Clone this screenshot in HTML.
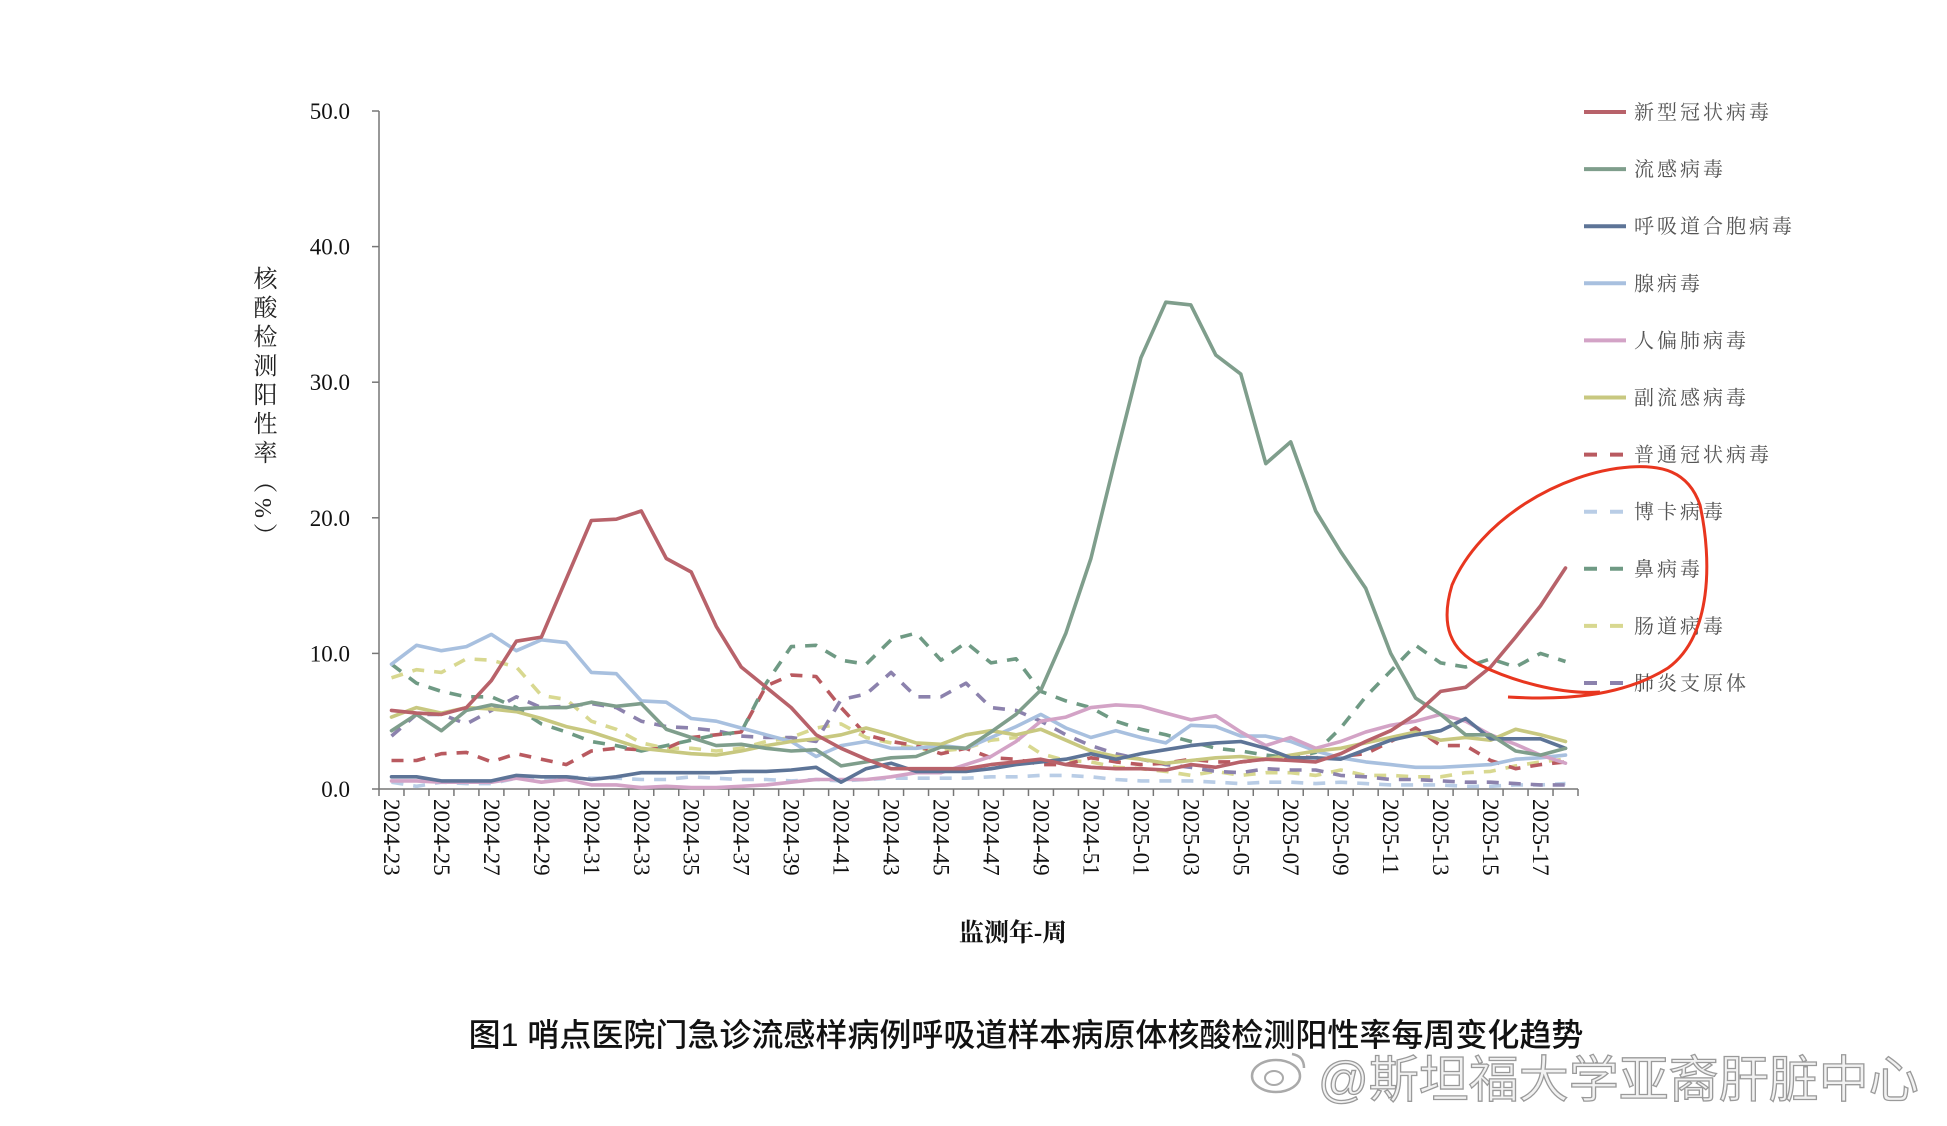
<!DOCTYPE html>
<html><head><meta charset="utf-8">
<style>
html,body{margin:0;padding:0;background:#fff;}
body{width:1947px;height:1126px;position:relative;overflow:hidden;font-family:"Liberation Serif","Noto Serif CJK SC",serif;}
#chart{position:absolute;left:0;top:0;}
.ytitle{position:absolute;left:245px;top:266px;writing-mode:vertical-rl;font-family:"Liberation Serif","Noto Serif CJK SC",serif;font-size:24px;letter-spacing:5px;color:#222;}
.title{position:absolute;left:0;width:2052px;top:1010px;text-align:center;font-family:"Liberation Sans","Noto Sans CJK SC",sans-serif;font-size:32px;font-weight:500;color:#111;}
.wm{position:absolute;left:1318px;top:1040px;font-family:"Liberation Sans","Noto Sans CJK SC",sans-serif;font-size:50px;color:#f2f2f2;-webkit-text-stroke:1.3px #9a9a9a;white-space:nowrap;}
.wmlogo{position:absolute;left:1248px;top:1048px;width:60px;height:46px;}
</style></head>
<body>
<svg id="chart" width="1947" height="1126"></svg>
<div class="ytitle">核酸检测阳性率（%）</div>
<div class="title">图1 哨点医院门急诊流感样病例呼吸道样本病原体核酸检测阳性率每周变化趋势</div>
<svg class="wmlogo" viewBox="0 0 60 46"><ellipse cx="28" cy="28" rx="24" ry="16" fill="none" stroke="#aaa" stroke-width="2.5"/><ellipse cx="26" cy="30" rx="9" ry="7" fill="none" stroke="#aaa" stroke-width="2"/><path d="M44 6 Q56 8 56 20" fill="none" stroke="#aaa" stroke-width="2.5"/></svg>
<div class="wm">@斯坦福大学亚裔肝脏中心</div>
<script>
const categories = ["2024-23","2024-24","2024-25","2024-26","2024-27","2024-28","2024-29","2024-30","2024-31","2024-32","2024-33","2024-34","2024-35","2024-36","2024-37","2024-38","2024-39","2024-40","2024-41","2024-42","2024-43","2024-44","2024-45","2024-46","2024-47","2024-48","2024-49","2024-50","2024-51","2024-52","2025-01","2025-02","2025-03","2025-04","2025-05","2025-06","2025-07","2025-08","2025-09","2025-10","2025-11","2025-12","2025-13","2025-14","2025-15","2025-16","2025-17","2025-18"];
const yTicks = [0,10,20,30,40,50];
const yTickLabels = ["0.0","10.0","20.0","30.0","40.0","50.0"];
const seriesNames = ["新型冠状病毒","流感病毒","呼吸道合胞病毒","腺病毒","人偏肺病毒","副流感病毒","普通冠状病毒","博卡病毒","鼻病毒","肠道病毒","肺炎支原体"];
const covid = [5.8,5.6,5.5,6.0,8.0,10.9,11.2,15.5,19.8,19.9,20.5,17.0,16.0,12.0,9.0,7.5,6.0,4.0,3.0,2.2,1.5,1.5,1.5,1.5,1.8,2.0,2.2,1.8,1.6,1.5,1.5,1.4,1.8,1.6,2.0,2.2,2.1,2.0,2.6,3.5,4.3,5.5,7.2,7.5,9.0,11.2,13.5,16.3];
const flu = [4.3,5.5,4.3,5.8,6.2,5.9,6.0,6.0,6.4,6.1,6.3,4.4,3.8,3.2,3.3,3.0,2.8,2.9,1.7,2.0,2.3,2.4,3.1,3.0,4.2,5.5,7.3,11.5,17.0,24.5,31.8,35.9,35.7,32.0,30.6,24.0,25.6,20.5,17.5,14.8,10.0,6.7,5.5,4.0,4.0,2.8,2.5,3.0];
const rsv = [0.9,0.9,0.6,0.6,0.6,1.0,0.9,0.9,0.7,0.9,1.2,1.2,1.2,1.2,1.3,1.3,1.4,1.6,0.5,1.5,1.9,1.3,1.3,1.3,1.5,1.8,2.0,2.2,2.6,2.2,2.6,2.9,3.2,3.4,3.5,3.0,2.3,2.3,2.2,2.9,3.6,4.0,4.3,5.2,3.7,3.7,3.7,3.0];
const adeno = [9.2,10.6,10.2,10.5,11.4,10.2,11.0,10.8,8.6,8.5,6.5,6.4,5.2,5.0,4.5,4.0,3.5,2.4,3.2,3.5,3.0,3.0,3.2,3.0,3.8,4.6,5.5,4.5,3.8,4.3,3.8,3.4,4.7,4.6,3.9,3.9,3.5,2.8,2.3,2.0,1.8,1.6,1.6,1.7,1.8,2.2,2.3,2.5];
const hmpv = [0.6,0.6,0.5,0.5,0.5,0.8,0.5,0.7,0.3,0.3,0.1,0.2,0.1,0.1,0.2,0.3,0.5,0.7,0.7,0.7,0.9,1.2,1.2,1.8,2.4,3.5,5.0,5.3,6.0,6.2,6.1,5.6,5.1,5.4,4.2,3.2,3.8,3.0,3.5,4.2,4.7,5.0,5.5,5.0,4.0,3.3,2.5,1.9];
const para = [5.3,6.0,5.6,6.0,5.9,5.7,5.2,4.6,4.2,3.6,3.0,2.8,2.6,2.5,2.8,3.2,3.5,3.7,4.0,4.5,4.0,3.4,3.3,4.0,4.3,4.0,4.4,3.6,2.8,2.4,2.2,1.9,2.1,2.3,2.4,2.2,2.5,2.8,3.0,3.4,3.8,4.2,3.6,3.8,3.6,4.4,4.0,3.5];
const hcov = [2.1,2.1,2.6,2.7,2.0,2.6,2.2,1.8,2.8,3.0,2.9,3.0,3.8,4.0,4.2,7.6,8.4,8.3,6.0,4.0,3.5,3.2,2.6,3.0,2.3,2.2,1.8,1.8,2.3,2.0,1.8,1.9,2.2,2.0,2.0,2.2,2.4,2.3,2.4,2.6,3.5,4.5,3.2,3.2,2.1,1.5,1.8,2.0];
const boca = [0.5,0.2,0.5,0.4,0.4,0.8,0.8,0.9,0.8,0.8,0.7,0.7,0.9,0.8,0.7,0.7,0.6,0.7,0.6,0.7,0.8,0.8,0.8,0.8,0.9,0.9,1.0,1.0,0.9,0.7,0.6,0.6,0.6,0.5,0.4,0.5,0.5,0.4,0.5,0.4,0.3,0.3,0.3,0.2,0.2,0.3,0.3,0.4];
const rhino = [9.2,7.8,7.2,6.8,6.8,6.0,4.8,4.2,3.5,3.2,2.8,3.2,3.6,4.0,4.2,7.8,10.5,10.6,9.5,9.2,11.0,11.5,9.5,10.8,9.3,9.6,7.2,6.5,6.0,5.0,4.4,4.0,3.5,3.0,2.8,2.5,2.3,2.7,4.5,6.8,8.7,10.6,9.3,9.0,9.6,9.0,10.0,9.4];
const entero = [8.2,8.8,8.6,9.6,9.5,9.0,6.9,6.6,5.0,4.4,3.4,3.0,3.0,2.8,3.0,3.5,3.8,4.5,4.8,3.8,3.4,3.0,2.8,3.0,3.6,3.8,2.6,2.1,2.0,1.6,1.5,1.3,1.0,1.3,1.0,1.2,1.2,1.0,1.4,1.0,1.0,0.9,0.9,1.2,1.3,1.7,2.0,2.2];
const myco = [3.9,5.5,5.5,4.8,5.8,6.8,6.0,6.1,6.3,6.0,5.0,4.6,4.5,4.3,3.9,3.8,3.8,3.5,6.6,7.0,8.6,6.8,6.8,7.8,6.0,5.8,5.0,4.0,3.2,2.6,2.2,1.8,1.6,1.3,1.2,1.5,1.4,1.4,1.0,0.9,0.7,0.7,0.6,0.5,0.5,0.4,0.3,0.3];

const seriesData = [covid,flu,rsv,adeno,hmpv,para,hcov,boca,rhino,entero,myco];
const colors = ["#b8626a","#7f9e8c","#5d7497","#a8c0df","#d3a3c6","#c8c880","#b95a60","#b9cde6","#6f9a84","#d8d890","#8c82ad"];
const dashed = [false,false,false,false,false,false,true,true,true,true,true];
const keys = ["covid","flu","rsv","adeno","hmpv","para","hcov","boca","rhino","entero","myco"];

const X0=379, X1=1578, Y0=789, Y50=111;
const slot=(X1-X0)/categories.length;
function xPos(i){return X0+slot*(i+0.5);}
function yPos(v){return Y0-(v/50)*(Y0-Y50);}
const NS="http://www.w3.org/2000/svg";
const svg=document.getElementById('chart');
function mk(tag,attrs,parent){const e=document.createElementNS(NS,tag);for(const k in attrs)e.setAttribute(k,attrs[k]);(parent||svg).appendChild(e);return e;}

const axY=mk('line',{x1:X0,y1:Y50,x2:X0,y2:Y0,stroke:'#777','stroke-width':1.5});


const axX=mk('line',{x1:X0,y1:Y0,x2:X1,y2:Y0,stroke:'#777','stroke-width':1.5});


yTicks.forEach((t,k)=>{
  const y=yPos(t);
  const tk=mk('line',{x1:X0-7,y1:y,x2:X0,y2:y,stroke:'#777','stroke-width':1.5});
  
  
  const tx=mk('text',{x:350,y:y+8,'text-anchor':'end','font-size':23,fill:'#111','font-family':'Liberation Serif, serif'});
  tx.textContent=yTickLabels[k];
  
  
});
for(let i=0;i<=categories.length;i++){
  const x=X0+slot*i;
  const tk=mk('line',{x1:x,y1:Y0,x2:x,y2:Y0+7,stroke:'#777','stroke-width':1.5});
  
  
}
categories.forEach((c,i)=>{
  if(i%2!==0)return;
  const x=xPos(i), y=Y0+10;
  const tx=mk('text',{x:x,y:y,transform:`rotate(90 ${x} ${y})`,'text-anchor':'start','dominant-baseline':'central','font-size':23,fill:'#111','font-family':'Liberation Serif, serif'});
  tx.textContent=c;
  
  
});
const xt=mk('text',{x:1013,y:941,'text-anchor':'middle','font-size':25,fill:'#111','font-weight':'bold','font-family':'Liberation Serif, Noto Serif CJK SC, serif'});
xt.textContent='监测年-周';



const order=[9,7,10,6,8,3,4,5,2,1,0];
order.forEach(s=>{
  const d=seriesData[s].map((v,i)=>(i?'L':'M')+xPos(i).toFixed(1)+' '+yPos(v).toFixed(1)).join(' ');
  const attrs={d:d,fill:'none',stroke:colors[s],'stroke-width':3.6,'stroke-linejoin':'round','stroke-linecap':'round'};
  if(dashed[s]){attrs['stroke-dasharray']='12 10';attrs['stroke-linecap']='butt';}
  const p=mk('path',attrs);
  
  
});

seriesNames.forEach((n,s)=>{
  const y=112+s*57.1;
  const g=mk('g',{});
  
  
  const la={x1:1584,y1:y,x2:1626,y2:y,stroke:colors[s],'stroke-width':4};
  if(dashed[s])la['stroke-dasharray']='13 13';
  mk('line',la,g);
  const t=mk('text',{x:1634,y:y+7,'font-size':20,fill:'#555','letter-spacing':'3','font-family':'Liberation Serif, Noto Serif CJK SC, serif'},g);
  t.textContent=n;
});

const ann=mk('path',{d:'M1508 697 C1560 700 1620 698 1668 668 C1712 636 1712 560 1700 505 C1688 470 1660 465 1630 467 C1560 472 1480 520 1452 585 C1440 625 1450 650 1480 665 C1510 680 1560 695 1600 692',fill:'none',stroke:'#e8361f','stroke-width':3});


</script>
</body></html>
